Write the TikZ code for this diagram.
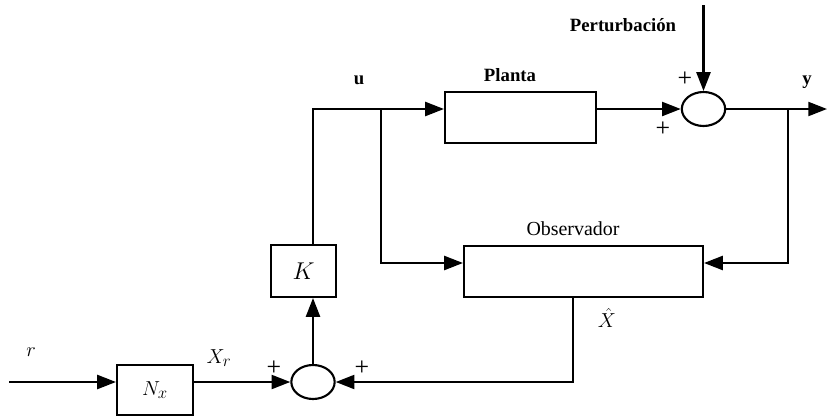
\documentclass[tikz,border=0pt]{standalone}
\usepackage{fontspec}
\setmainfont{Liberation Serif}
\usetikzlibrary{shapes.geometric, arrows.meta, positioning}

\begin{document}
\begin{tikzpicture}[
    x=0.03cm, y=-0.03cm,
    b/.style={rectangle, draw, line width=1.8pt, inner sep=0pt},
    s/.style={ellipse, draw, line width=1.8pt, inner sep=0pt, minimum width=1.3cm, minimum height=1.02cm},
    a/.style={-{Triangle[length=16pt, width=12pt]}, line width=1.8pt},
    t/.style={font=\fontsize{17}{19}\selectfont},
    tb/.style={font=\fontsize{16}{18}\selectfont\bfseries},
    m/.style={font=\fontsize{19}{21}\selectfont},
    p/.style={font=\fontsize{22}{24}\selectfont, inner sep=0pt},
]
\useasboundingbox (0,0) rectangle (827,418);

\node[b, minimum width=4.53cm, minimum height=1.53cm] (planta) at (520.5,117.5) {};
\node[b, minimum width=7.17cm, minimum height=1.53cm] (obs) at (583.5,271.5) {};
\node[b, minimum width=1.95cm, minimum height=1.56cm, font=\fontsize{21}{23}\selectfont] (K) at (303.5,271) {$K$};
\node[b, minimum width=2.28cm, minimum height=1.5cm, m] (Nx) at (155,390) {$N_x$};
\node[s] (sumT) at (703.5,109) {};
\node[s] (sumB) at (313,382) {};

\coordinate (pert) at (703.5,5);
\coordinate (yout) at (827,109);
\coordinate (yb) at (788,109);
\coordinate (yd) at (788,263);
\coordinate (uk) at (313,109);
\coordinate (ub) at (381,109);
\coordinate (oi) at (381,263);
\coordinate (xo) at (573,382);
\coordinate (rin) at (9,382);

\node[tb] (lpert) at (623,25) {Perturbación};
\node[tb] (lplanta) at (510,75) {Planta};
\node[t] (lobs) at (573,229) {Observador};
\node[tb] (lu) at (359,80) {u};
\node[tb] (ly) at (807,82) {y};
\node[m] (lr) at (31,352) {$r$};
\node[m] (lxr) at (219,358) {$X_r$};
\node[m] (lxh) at (607,318) {$\hat{X}$};
\node[p] (p1) at (685,79) {+};
\node[p] (p2) at (663,129) {+};
\node[p] (p3) at (274,368) {+};
\node[p] (p4) at (362,368) {+};

\draw[a] (rin) -- (rin -| Nx.west);
\draw[a] (Nx.east |- rin) -- (sumB);
\draw[a] (sumB) -- (sumB |- K.south);
\draw[a] (sumB |- K.north) -- (uk) -- (uk -| planta.west);
\draw[a] (ub) -- (oi) -- (oi -| obs.west);
\draw[a] (planta.east |- uk) -- (sumT);
\draw[a] (pert) -- (sumT);
\draw[a] (sumT) -- (yout);
\draw[a] (yb) -- (yd) -- (yd -| obs.east);
\draw[a] (obs.south -| xo) -- (xo) -- (sumB);
\end{tikzpicture}
\end{document}
